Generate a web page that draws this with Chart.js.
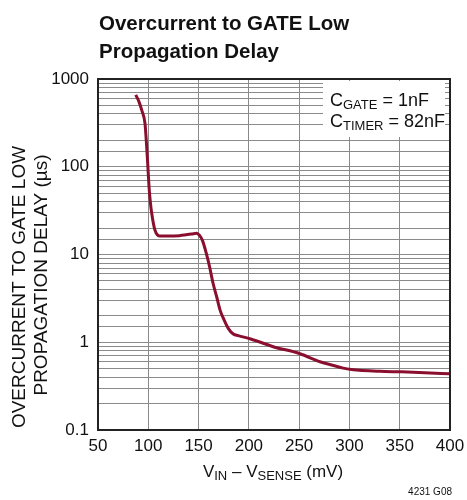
<!DOCTYPE html>
<html><head><meta charset="utf-8">
<script src="https://cdn.jsdelivr.net/npm/chart.js@4"></script>
<style>html,body{margin:0;padding:0;background:#fff}canvas{display:block}</style>
</head><body>
<canvas id="c" width="467" height="500"></canvas>
<script>
// ---- data ----
const vinMinusVsense = [87.5, 90.5, 93.4, 96.7, 98, 99.4, 100.7, 102, 103.4, 106.6, 111.6, 120, 131, 143, 148, 151, 154, 157.5, 161, 164.4, 168, 171.3, 174.6, 179.5, 184.5, 189.5, 201.8, 224.3, 250.8, 270.7, 285, 293.8, 302, 330, 351.8, 375, 399.5];
const delayUs = [658, 560, 444, 313, 200, 110, 60, 40, 29.5, 19, 16.2, 16.2, 16.4, 17.1, 17.5, 16.5, 14.3, 10.5, 7.2, 4.7, 3.3, 2.34, 1.88, 1.44, 1.24, 1.19, 1.09, 0.89, 0.74, 0.60, 0.54, 0.507, 0.49, 0.467, 0.46, 0.45, 0.437];
const xTickValues = [50, 100, 150, 200, 250, 300, 350, 400];
const yTickLabels = [0.1, 1, 10, 100, 1000];
const titleLines = ['Overcurrent to GATE Low', 'Propagation Delay'];
const yTitleLines = ['OVERCURRENT TO GATE LOW', 'PROPAGATION DELAY (\u00b5s)'];
const xTitleParts = [['V', false], ['IN', true], [' \u2013 V', false], ['SENSE', true], [' (mV)', false]];
const legendLines = [[['C', false], ['GATE', true], [' = 1nF', false]], [['C', false], ['TIMER', true], [' = 82nF', false]]];
const figureId = '4231 G08';

const FONT = '"Liberation Sans", Arial, sans-serif';
const LINE_COLOR = '#8a0f2f';

function drawParts(ctx, parts, x, y, size, subSize, subDrop, align) {
  let total = 0;
  const widths = parts.map(([t, sub]) => {
    ctx.font = (sub ? subSize : size) + 'px ' + FONT;
    const w = ctx.measureText(t).width; total += w; return w;
  });
  let cx = align === 'center' ? x - total / 2 : x;
  ctx.textAlign = 'left';
  ctx.textBaseline = 'alphabetic';
  parts.forEach(([t, sub], i) => {
    ctx.font = (sub ? subSize : size) + 'px ' + FONT;
    ctx.fillText(t, cx, sub ? y + subDrop : y);
    cx += widths[i];
  });
}

const decor = {
  id: 'decor',
  afterDraw(chart) {
    const ctx = chart.ctx;
    const a = chart.chartArea;
    ctx.save();
    // legend box
    ctx.fillStyle = '#fff';
    ctx.fillRect(323, 81, 122, 56);
    ctx.fillStyle = '#111';
    drawParts(ctx, legendLines[0], 330, 106, 18, 13, 3, 'left');
    drawParts(ctx, legendLines[1], 330, 127, 18, 13, 3, 'left');
    // frame
    ctx.strokeStyle = '#222';
    ctx.lineWidth = 2;
    ctx.strokeRect(a.left, a.top, a.right - a.left, a.bottom - a.top);
    // title
    ctx.fillStyle = '#111';
    ctx.font = 'bold 20.5px ' + FONT;
    ctx.textAlign = 'left';
    ctx.textBaseline = 'alphabetic';
    ctx.fillText(titleLines[0], 99, 30);
    ctx.fillText(titleLines[1], 99, 58);
    // y title
    ctx.font = '19px ' + FONT;
    ctx.textAlign = 'center';
    ctx.save();
    ctx.translate(25, 287); ctx.rotate(-Math.PI / 2);
    ctx.fillText(yTitleLines[0], 0, 0);
    ctx.restore();
    ctx.save();
    ctx.translate(47, 275); ctx.rotate(-Math.PI / 2);
    ctx.fillText(yTitleLines[1], 0, 0);
    ctx.restore();
    // x title
    drawParts(ctx, xTitleParts, 273, 477, 17, 13, 3, 'center');
    // figure id
    ctx.font = '10px ' + FONT;
    ctx.textAlign = 'right';
    ctx.fillText(figureId, 452, 495);
    ctx.restore();
  }
};

new Chart(document.getElementById('c'), {
  type: 'line',
  data: {
    datasets: [{
      data: vinMinusVsense.map((x, i) => ({ x, y: delayUs[i] })),
      borderColor: LINE_COLOR,
      borderWidth: 3,
      pointRadius: 0,
      fill: false,
      tension: 0.4,
      cubicInterpolationMode: 'monotone'
    }]
  },
  options: {
    responsive: false,
    animation: false,
    events: [],
    layout: { padding: { top: 79, right: 17, left: 0, bottom: 0 } },
    plugins: { legend: { display: false }, tooltip: { enabled: false }, title: { display: false } },
    scales: {
      x: {
        type: 'linear', min: 50, max: 400,
        afterBuildTicks(s) { s.ticks = xTickValues.map(v => ({ value: v })); },
        afterFit(s) { s.height = 70; s.paddingLeft = 0; s.paddingRight = 0; },
        ticks: { autoSkip: false, maxRotation: 0, padding: 6, color: '#111', font: { family: FONT, size: 17 } },
        grid: { color: '#8a8a8a', lineWidth: 1, drawTicks: false },
        border: { display: false }
      },
      y: {
        type: 'logarithmic', min: 0.1, max: 1000,
        afterFit(s) { s.width = 98; s.paddingTop = 0; s.paddingBottom = 0; },
        ticks: {
          autoSkip: false, padding: 9, color: '#111', font: { family: FONT, size: 17 },
          callback(value) {
            const m = yTickLabels.find(v => Math.abs(Math.log10(v) - Math.log10(value)) < 1e-6);
            return m === undefined ? '' : String(m);
          }
        },
        grid: { color: '#8a8a8a', lineWidth: 1, drawTicks: false },
        border: { display: false }
      }
    }
  },
  plugins: [decor]
});
</script>
</body></html>
